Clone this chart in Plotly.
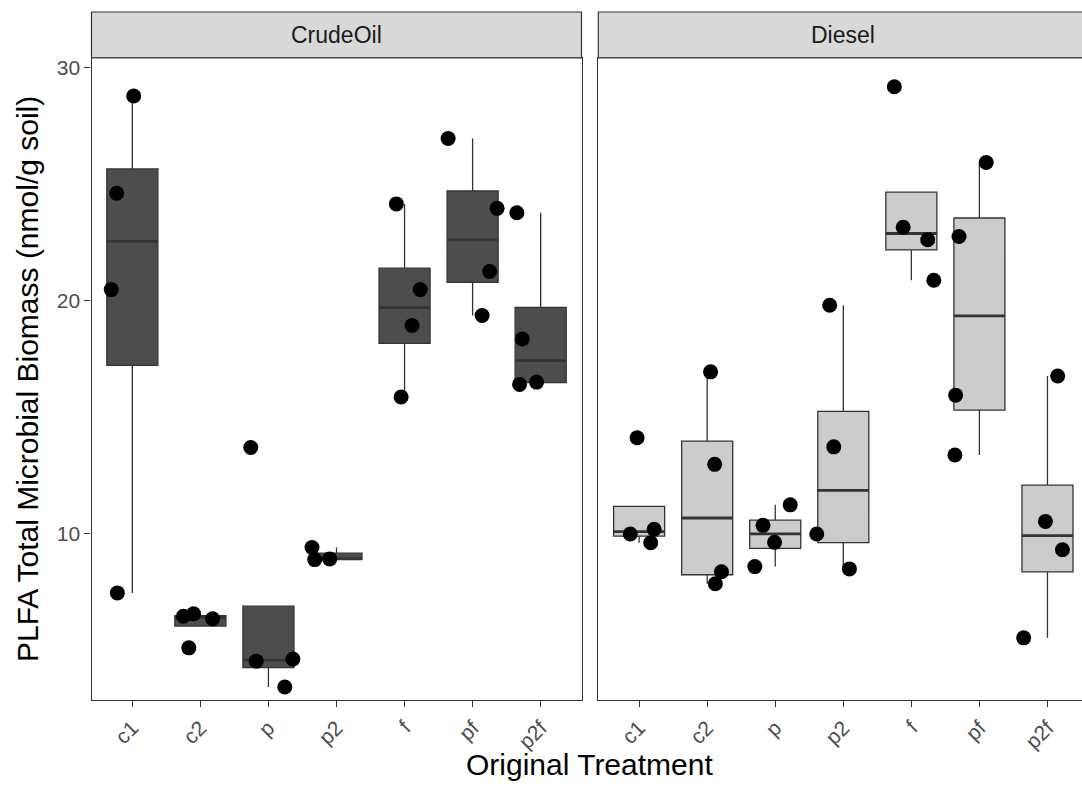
import numpy as np
import plotly.graph_objects as go

# ---------------- data ----------------
categories = ["c1", "c2", "p", "p2", "f", "pf", "p2f"]
facets = ["CrudeOil", "Diesel"]

crude_values = [
    [28.79, 24.62, 20.48, 7.46],
    [6.46, 6.56, 6.35, 5.10],
    [13.70, 4.53, 4.62, 3.42],
    [9.41, 8.89, 8.92],
    [24.16, 20.48, 18.94, 15.87],
    [26.97, 23.97, 21.26, 19.37],
    [23.78, 18.36, 16.41, 16.51],
]
crude_jitter = [
    [0.02, -0.23, -0.31, -0.22],
    [-0.25, -0.10, 0.18, -0.17],
    [-0.26, -0.18, 0.36, 0.24],
    [-0.36, -0.32, -0.10],
    [-0.12, 0.23, 0.11, -0.05],
    [-0.36, 0.36, 0.25, 0.14],
    [-0.35, -0.27, -0.31, -0.06],
]
diesel_values = [
    [14.12, 9.99, 10.19, 9.61],
    [16.95, 12.98, 8.37, 7.85],
    [11.24, 10.36, 9.63, 8.59],
    [19.81, 13.73, 9.99, 8.49],
    [29.19, 23.16, 22.62, 20.88],
    [25.94, 22.76, 15.95, 13.38],
    [16.77, 10.53, 9.31, 5.53],
]
diesel_jitter = [
    [-0.03, -0.13, 0.22, 0.17],
    [0.05, 0.11, 0.21, 0.12],
    [0.22, -0.18, -0.01, -0.30],
    [-0.20, -0.14, -0.39, 0.09],
    [-0.25, -0.12, 0.24, 0.33],
    [0.10, -0.30, -0.35, -0.36],
    [0.15, -0.03, 0.22, -0.35],
]
fill_colors = ["#4D4D4D", "#CCCCCC"]
y_ticks = [10, 20, 30]

# ---------------- layout geometry (pixels) ----------------
W, H = 1082, 812
panel_top, panel_bot = 56, 700
strip_top = 10
left_x0, left_x1 = 91.5, 581.5
right_x0 = 598.3
unit_px = (left_x1 - left_x0) / 7.2
yrange = [2.85, 30.43]


def fx(px):
    return px / W


def fy(py):
    return 1 - py / H


def box_stats(vals):
    v = np.array(vals, dtype=float)
    q1, med, q3 = np.percentile(v, [25, 50, 75])
    iqr = q3 - q1
    lo = v[v >= q1 - 1.5 * iqr].min()
    hi = v[v <= q3 + 1.5 * iqr].max()
    return q1, med, q3, min(lo, q1), max(hi, q3)


fig = go.Figure()
line_col = "#333333"

for k, (vals, jit) in enumerate([(crude_values, crude_jitter), (diesel_values, diesel_jitter)]):
    xa = "x" if k == 0 else "x2"
    ya = "y" if k == 0 else "y2"
    pos = list(range(1, len(categories) + 1))
    stats = [box_stats(v) for v in vals]
    fig.add_trace(go.Box(
        x=pos,
        q1=[s[0] for s in stats], median=[s[1] for s in stats], q3=[s[2] for s in stats],
        lowerfence=[s[3] for s in stats], upperfence=[s[4] for s in stats],
        width=0.75, whiskerwidth=0, boxpoints=False,
        fillcolor=fill_colors[k], line=dict(color=line_col, width=1.3),
        xaxis=xa, yaxis=ya, showlegend=False, hoverinfo="skip",
    ))
    # thicker median line (ggplot fatten)
    mx, my = [], []
    for p, s in zip(pos, stats):
        mx += [p - 0.375, p + 0.375, None]
        my += [s[1], s[1], None]
    fig.add_trace(go.Scatter(x=mx, y=my, mode="lines", line=dict(color=line_col, width=2.8),
                             xaxis=xa, yaxis=ya, showlegend=False, hoverinfo="skip"))
    px_, py_ = [], []
    for p, v, j in zip(pos, vals, jit):
        px_ += [p + jj for jj in j]
        py_ += list(v)
    fig.add_trace(go.Scatter(x=px_, y=py_, mode="markers",
                             marker=dict(color="black", size=15),
                             xaxis=xa, yaxis=ya, showlegend=False, hoverinfo="skip"))

right_end = 0.4 + (W - right_x0) / unit_px

FONT = "Liberation Sans, Arial, sans-serif"
tickfont = dict(family=FONT, size=21, color="#4D4D4D")
xcommon = dict(tickmode="array", tickvals=list(range(1, 8)), ticktext=categories,
               tickangle=-45, ticks="outside", ticklen=6, tickcolor=line_col, tickwidth=1.1,
               showline=True, linecolor=line_col, linewidth=1.2, mirror=True,
               showgrid=False, zeroline=False, tickfont=tickfont)

fig.update_layout(
    width=W, height=H,
    margin=dict(l=0, r=0, t=0, b=0),
    paper_bgcolor="white", plot_bgcolor="white",
    font=dict(family=FONT),
    xaxis=dict(domain=[fx(left_x0), fx(left_x1)], range=[0.4, 7.6], anchor="y", **xcommon),
    xaxis2=dict(domain=[fx(right_x0), 1.0], range=[0.4, right_end], anchor="y2", **xcommon),
    yaxis=dict(domain=[fy(panel_bot), fy(panel_top)], range=yrange, anchor="x",
               tickvals=y_ticks, ticks="outside", ticklen=6, tickcolor=line_col, tickwidth=1.1,
               showline=True, linecolor=line_col, linewidth=1.2, mirror=True,
               showgrid=False, zeroline=False, tickfont=tickfont),
    yaxis2=dict(domain=[fy(panel_bot), fy(panel_top)], range=yrange, anchor="x2",
                showticklabels=False, ticks="", showline=True, linecolor=line_col, linewidth=1.2,
                mirror=False, showgrid=False, zeroline=False),
)

shapes = []
annotations = []
strip_spans = [(left_x0, left_x1, (left_x0 + left_x1) / 2),
               (right_x0, W + 10, right_x0 + 3.6 * unit_px)]
for (x0, x1, xc), name in zip(strip_spans, facets):
    shapes.append(dict(type="rect", xref="paper", yref="paper",
                       x0=fx(x0), x1=fx(x1), y0=fy(panel_top), y1=fy(strip_top),
                       fillcolor="#D9D9D9", line=dict(color=line_col, width=1.2), layer="above"))
    annotations.append(dict(text=name, xref="paper", yref="paper", x=fx(xc),
                            y=fy((panel_top + strip_top) / 2), showarrow=False,
                            xanchor="center", yanchor="middle",
                            font=dict(size=23, color="#1A1A1A")))

annotations.append(dict(text="PLFA Total Microbial Biomass (nmol/g soil)", xref="paper", yref="paper",
                        x=fx(27), y=fy((panel_top + panel_bot) / 2), textangle=-90, showarrow=False,
                        xanchor="center", yanchor="middle", font=dict(size=30, color="black")))
annotations.append(dict(text="Original Treatment", xref="paper", yref="paper",
                        x=fx((left_x0 + right_x0 + 7.2 * unit_px) / 2), y=fy(764), showarrow=False,
                        xanchor="center", yanchor="middle", font=dict(size=30, color="black")))

fig.update_layout(shapes=shapes, annotations=annotations)
fig.write_html("out.html", post_script="document.body.style.margin='0';",
               config={"displayModeBar": False})
